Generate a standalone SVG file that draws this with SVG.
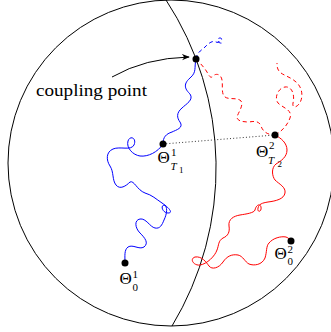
<svg xmlns="http://www.w3.org/2000/svg" width="331" height="332" viewBox="0 0 331 332">
<style>
.ln{fill:none;stroke:#000;stroke-width:1}
.blue{fill:none;stroke:#0000ff;stroke-width:1}
.red{fill:none;stroke:#ff0000;stroke-width:1}
.dash{stroke-dasharray:4,3}
.dot{fill:#000}
text{font-family:"Liberation Serif","Times New Roman",serif;fill:#000}
.th{font-size:17px}
.sup{font-size:11px}
.sub{font-size:11px}
.ss{font-size:9px}
</style>
<defs>
<marker id="ah" viewBox="0 0 10 10" refX="9" refY="5" markerWidth="8" markerHeight="8" markerUnits="userSpaceOnUse" orient="auto">
<path d="M0,1 Q5,5 0,9 L10,5 Z" fill="#000"/>
</marker>
</defs>
<g id="sphere">
<circle class="ln" cx="171" cy="163" r="163"/>
<path class="ln" d="M166,0 A306,306 0 0 1 172,326"/>
</g>
<g id="connectors">
<path class="ln" d="M112,77 Q145,58 189,57" marker-end="url(#ah)"/>
<line x1="163" y1="144" x2="275" y2="135" stroke="#000" stroke-width="0.8" stroke-dasharray="1,2.2"/>
<path class="blue" d="M196,59 C194,68 197,72 190,78 C182,85 186,90 190,94 C194,100 186,104 182,108 C176,113 177,118 180,122 C184,128 176,130 172,132 C166,134 163,137 163,144"/>
<path class="blue" d="M163,144 C158,152 148,157 140,156 C133,155 126,148 128,141 C130,135 137,138 134,145 C131,151 120,146 113,149 C106,152 106,160 110,166 C114,172 112,180 116,185 C120,190 126,186 130,182 C134,180 137,190 145,193 C152,195 156,199 162,203 C168,207 174,213 168,213 C163,213 160,206 164,205 C168,206 167,214 164,220 C162,225 160,229 155,228 C150,227 146,218 140,219 C134,220 135,228 140,233 C145,238 149,243 144,247 C139,250 133,244 128,247 C124,250 125,256 125,263"/>
<path class="blue dash" d="M196,59 C197,52 202,50 205,47 C208,44 212,40 216,42 C220,44 224,38 220,38 C216,38 218,44 222,43" stroke-dasharray="3,2.5"/>
<path class="red dash" d="M196,59 C199,62 204,67 207,72 C209,76 211,79 213,76 C216,73 221,74 222,80 C223,86 221,94 225,97 C229,100 237,97 241,101 C244,105 238,113 237,117 C237,121 243,122 249,122 C255,121 259,121 261,126 C263,132 268,135 275,135"/>
<path class="red dash" d="M275,135 C282,131 287,126 290,118 C293,110 283,108 278,103 C274,98 278,88 285,87 C292,86 295,95 293,103 C292,108 296,108 299,104 C303,99 303,90 298,84 C293,78 285,76 281,73 C277,70 277,66 277,63"/>
<path class="red" d="M275,135 C281,138 287,143 287,150 C287,157 281,161 276,164 C271,168 272,176 275,180 C279,184 286,187 285,193 C284,199 276,201 268,202 C262,203 259,204 258,208 C257,213 262,212 261,207 C260,203 256,205 255,210 C254,213 246,214 240,215 C234,216 228,219 229,226 C230,232 228,236 223,238 C218,241 219,245 217,250 C215,256 207,264 200,265 C194,266 189,259 195,257 C202,256 206,262 209,266 C212,270 219,268 223,262 C227,256 232,254 238,255 C243,256 245,262 249,264 C254,266 262,265 265,258 C267,252 266,246 269,243 C273,238 281,236 286,237 C289,238 290,240 291,241"/>
</g>
<g id="coupling-point">
<circle class="dot" cx="196" cy="59" r="3.5"/>
<text x="36" y="96" font-size="17" textLength="111" lengthAdjust="spacingAndGlyphs">coupling point</text>
</g>
<g id="theta-T1">
<circle class="dot" cx="163" cy="144" r="3.5"/>
<text class="th" x="157.5" y="163">Θ</text>
<text class="sup" x="171" y="156">1</text>
<text class="sub" x="170.5" y="169.5" font-style="italic">T</text>
<text class="ss" x="179" y="173">1</text>
</g>
<g id="theta-T2">
<circle class="dot" cx="275" cy="135" r="3.5"/>
<text class="th" x="256" y="157">Θ</text>
<text class="sup" x="269" y="149">2</text>
<text class="sub" x="268" y="163.5" font-style="italic">T</text>
<text class="ss" x="277.5" y="167">2</text>
</g>
<g id="theta-01">
<circle class="dot" cx="125" cy="263" r="3.5"/>
<text class="th" x="119.5" y="284">Θ</text>
<text class="sup" x="132.5" y="278">1</text>
<text class="sub" x="132.5" y="291">0</text>
</g>
<g id="theta-02">
<circle class="dot" cx="291" cy="241" r="3.5"/>
<text class="th" x="274.5" y="259">Θ</text>
<text class="sup" x="287.5" y="253">2</text>
<text class="sub" x="287.5" y="264.5">0</text>
</g>
</svg>
